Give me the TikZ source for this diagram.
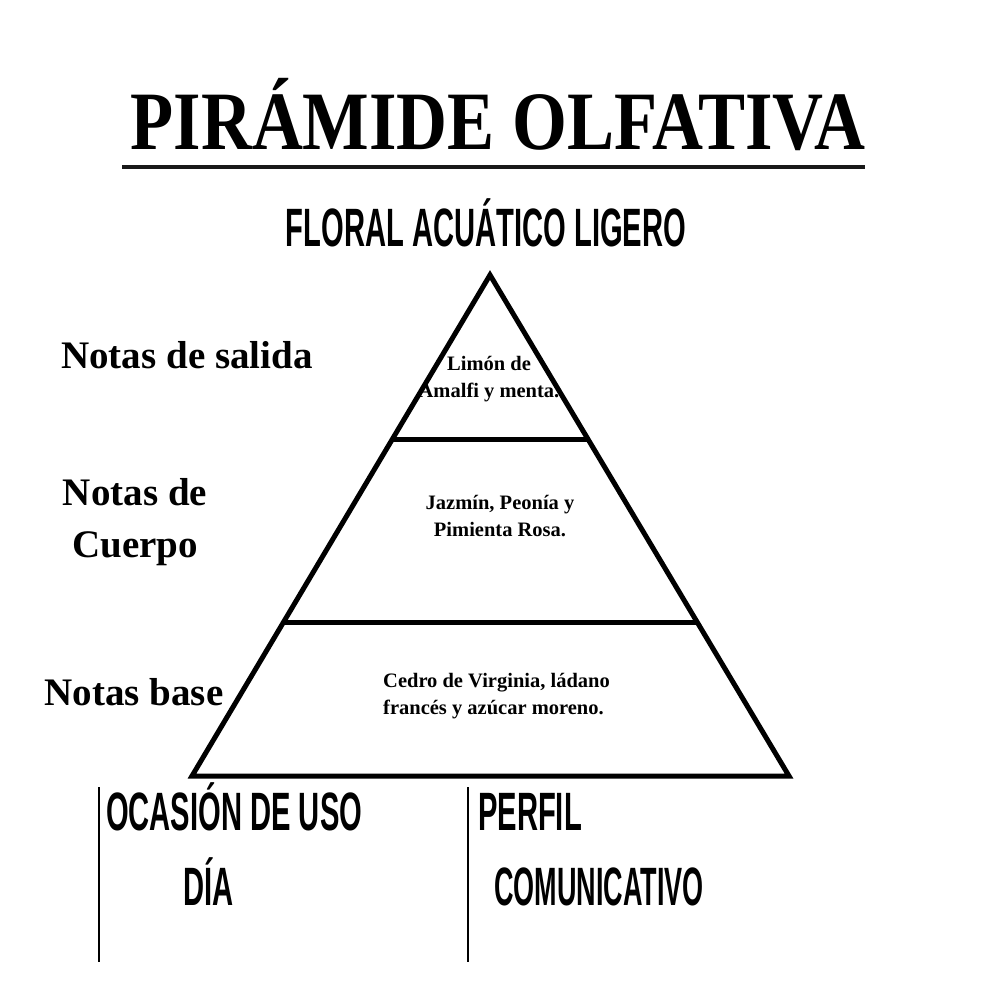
\documentclass[tikz,border=0pt]{standalone}
\usepackage{fontspec}
\setmainfont{Liberation Serif}
\newfontfamily\condsans{Liberation Sans}
\usetikzlibrary{calc}
\newcommand{\condx}[2]{\scalebox{#1}[1]{\condsans\bfseries\fontsize{54}{56}\selectfont #2}}
\newcommand{\cond}[1]{\condx{0.54}{#1}}
\begin{document}
\begin{tikzpicture}[x=1pt,y=-1pt,
  txt/.style={inner sep=0pt},
  sidelabel/.style={txt, font=\fontsize{39}{52}\selectfont\bfseries, align=center},
  inner/.style={txt, font=\fontsize{20.5}{27}\selectfont\bfseries, align=center},
  pyr/.style={line width=5pt, line join=miter},
  bar/.style={line width=2pt}
]
\useasboundingbox[fill=white] (0,0) rectangle (1000,1000);

% title
\node[txt, anchor=base] (title) at (498,150)
  {\scalebox{0.85}[1]{\fontsize{83}{90}\selectfont\bfseries PIRÁMIDE OLFATIVA}};
\coordinate (ulA) at (122,167);
\coordinate (ulB) at (865,167);
\draw[line width=4pt, black!90] (ulA) -- (ulB);

\node[txt, anchor=base] (subtitle) at (486,246) {\cond{FLORAL ACUÁTICO LIGERO}};

% pyramid
\coordinate (apex) at (490,275);
\coordinate (bl) at (192,776);
\coordinate (br) at (789,776);
\draw[pyr] (apex) -- (bl) -- (br) -- cycle;
\coordinate (l1a) at ($(apex)!0.329!(bl)$);
\coordinate (l1b) at ($(apex)!0.329!(br)$);
\coordinate (l2a) at ($(apex)!0.693!(bl)$);
\coordinate (l2b) at ($(apex)!0.693!(br)$);
\draw[pyr] (l1a) -- (l1b);
\draw[pyr] (l2a) -- (l2b);

% inner texts
\node[inner] (top) at (489,379) {Limón de\\Amalfi y menta.};
\node[inner] (mid) at (500,516) {Jazmín, Peonía y\\Pimienta Rosa.};
\node[inner, align=left, anchor=west] (low) at (383,696) {Cedro de Virginia, ládano\\francés y azúcar moreno.};

% side labels
\node[sidelabel, anchor=base] (salida) at (187,368) {Notas de salida};
\node[sidelabel] (cuerpo) at (135,522) {Notas de\\Cuerpo};
\node[sidelabel, anchor=base] (base) at (134,705) {Notas base};

% bottom
\coordinate (v1t) at (99,787);
\coordinate (v1b) at (99,962);
\coordinate (v2t) at (468,787);
\coordinate (v2b) at (468,962);
\draw[bar] (v1t) -- (v1b);
\draw[bar] (v2t) -- (v2b);
\node[txt, anchor=base west] (ocasion) at (106,830) {\cond{OCASIÓN DE USO}};
\node[txt, anchor=base west] (perfil) at (478,830) {\cond{PERFIL}};
\node[txt, anchor=base west] (dia) at (183,905) {\cond{DÍA}};
\node[txt, anchor=base west] (comu) at (494,905) {\condx{0.50}{COMUNICATIVO}};
\end{tikzpicture}
\end{document}
